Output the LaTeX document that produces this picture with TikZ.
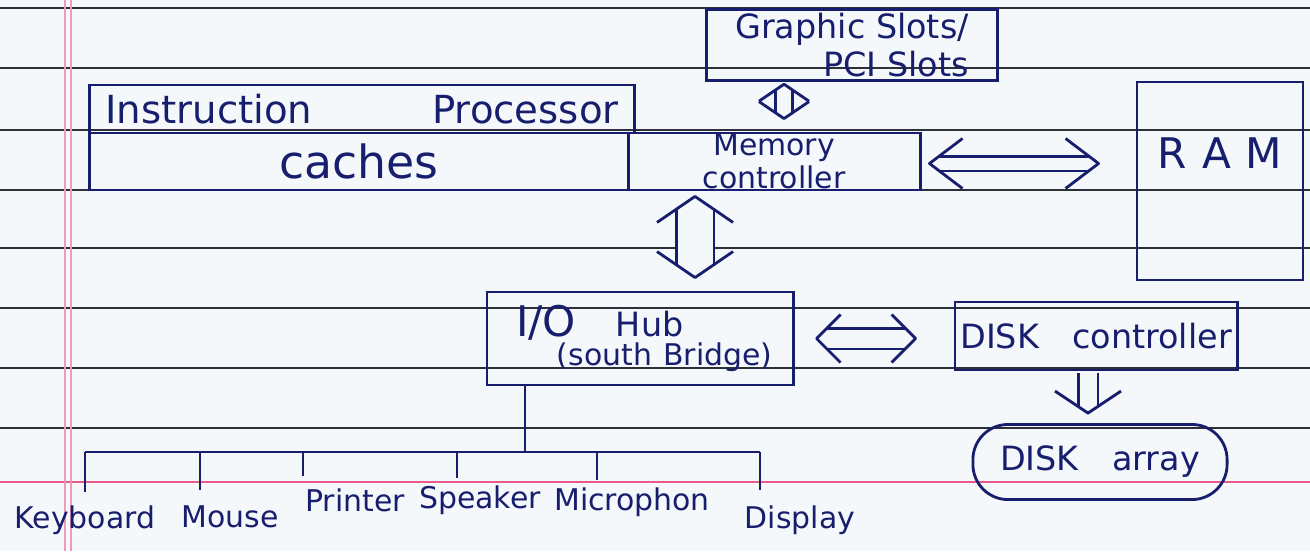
\documentclass[tikz,border=0pt]{standalone}
\usepackage{fontspec}
\setmainfont{DejaVu Sans}
\usetikzlibrary{arrows.meta, positioning, calc}
\definecolor{ink}{RGB}{24,30,110}
\definecolor{paper}{RGB}{245,248,250}
\definecolor{ruling}{RGB}{45,48,56}
\definecolor{margin}{RGB}{232,90,135}

\begin{document}
\begin{tikzpicture}[x=0.01cm, y=-0.01cm, font=\fontsize{9.5}{11}\selectfont,
        box/.style={draw=ink, line width=0.8pt, text=ink, inner sep=1pt, align=center},
        dev/.style={text=ink, font=\fontsize{8.5}{10}\selectfont},
        wire/.style={draw=ink, line width=0.8pt},
        shaft/.style={draw=ink, line width=0.8pt, double=paper, double distance=#1},
        pics/chev/.style 2 args={code={\draw[wire, line join=round] (-#1,#2) -- (0,0) -- (#1,#2);}}]
        \useasboundingbox[fill=paper] (0,0) rectangle (1310,551);
        % ruled paper
        \foreach \y in {8,68,130,190,248,308,368,428}
            \draw[ruling, line width=0.5pt] (0,\y) -- (1310,\y);
        \draw[margin, line width=0.6pt] (0,482) -- (1310,482);
        \draw[margin!60, line width=0.5pt] (65,0) -- (65,551) (71,0) -- (71,551);
        % processor and caches
        \node[box, minimum width=5.45cm, minimum height=0.48cm, font=\fontsize{11}{12}\selectfont] (proc) at (362,109)
            {Instruction\hspace{3.1em}Processor};
        \node[box, minimum width=5.38cm, minimum height=0.57cm, font=\fontsize{13}{14}\selectfont] (cache) at (359,161.5)
            {caches};
        % memory controller
        \node[box, minimum width=2.92cm, minimum height=0.57cm, inner sep=0pt, font=\fontsize{8.5}{8}\selectfont] (memctl) at (774,161.5)
            {Memory\\ controller};
        % graphic slots
        \node[box, minimum width=2.91cm, minimum height=0.64cm, align=right] (gfx) at (852,45)
            {Graphic Slots/\\ PCI Slots};
        % RAM
        \node[box, minimum width=1.66cm, minimum height=1.98cm,
            label={[text=ink, anchor=north, yshift=-0.45cm, font=\fontsize{12}{13}\selectfont]north:R\hspace{0.35em}A\hspace{0.35em}M}] (ram) at (1220,181) {};
        % I/O hub
        \node[box, minimum width=3.06cm, minimum height=0.93cm, text width=2.9cm, align=left] (iohub) at (640,338.5)
            {\hspace*{6pt}{\fontsize{12}{13}\selectfont I/O}\hspace{1.2em}Hub\\[-3pt]
             \hspace*{0.62cm}\mbox{\fontsize{8.5}{10}\selectfont(south Bridge)}};
        % disk controller and array
        \node[box, minimum width=2.82cm, minimum height=0.68cm] (disk) at (1096,336)
            {DISK\quad controller};
        \node[box, rounded corners=0.35cm, minimum width=2.54cm, minimum height=0.75cm] (array) at (1100,462)
            {DISK\quad array};
        % links
        \coordinate (gt) at ($(gfx.south -| memctl.north)+(10,2)$);
        \coordinate (gb) at ($(memctl.north)+(10,-13)$);
        \coordinate (ra) at ($(memctl.east)+(8,2)$);
        \coordinate (rb) at ($(memctl.east -| ram.west)+(-37,2)$);
        \coordinate (ma) at ($(memctl.south)+(-79,5)$);
        \coordinate (mb) at ($(iohub.north -| ma)+(0,-13)$);
        \coordinate (ha) at ($(iohub.east)+(22,0)$);
        \coordinate (hb) at ($(iohub.east -| disk.west)+(-38,0)$);
        \coordinate (da) at ($(disk.south)+(-8,2)$);
        \coordinate (db) at ($(array.north -| da)+(0,-10)$);
        \draw[shaft=0.14cm, shorten <=0.06cm, shorten >=0.06cm] (gb) -- (gt);
        \pic at (gt) {chev={25}{17}};
        \pic[rotate=180] at (gb) {chev={25}{17}};
        \draw[shaft=0.12cm, shorten <=0.1cm, shorten >=0.1cm] (ra) -- (rb);
        \pic[rotate=90] at (ra) {chev={25}{33}};
        \pic[rotate=-90] at (rb) {chev={25}{33}};
        \draw[shaft=0.35cm, shorten <=0.13cm, shorten >=0.13cm] (ma) -- (mb);
        \pic at (ma) {chev={38}{26}};
        \pic[rotate=180] at (mb) {chev={38}{26}};
        \draw[shaft=0.18cm, shorten <=0.1cm, shorten >=0.1cm] (ha) -- (hb);
        \pic[rotate=90] at (ha) {chev={24}{24}};
        \pic[rotate=-90] at (hb) {chev={24}{24}};
        \draw[shaft=0.17cm, shorten >=0.07cm] (da) -- (db);
        \pic[rotate=180] at (db) {chev={33}{22}};
        % peripheral bus
        \coordinate (busL) at (85,452);
        \coordinate (busR) at (760,452);
        \coordinate (busJ) at (525,452);
        \draw[wire] (iohub.south -| busJ) -- (busJ);
        \draw[wire] (busL) -- (busR);
        \foreach \n/\dx/\dy/\lx/\ly/\t in {kbd/85/492/85/520/Keyboard, mouse/200/490/230/517/Mouse,
                prn/303/476/355/500/Printer, spk/457/478/480/500/Speaker,
                mic/597/480/632/502/Microphon, disp/760/490/800/520/Display} {
            \coordinate (\n-t) at (\dx,\dy);
            \draw[wire] (busL -| \n-t) -- (\n-t);
            \node[dev] (\n) at (\lx,\ly) {\t};
        }
    \end{tikzpicture}
\end{document}
